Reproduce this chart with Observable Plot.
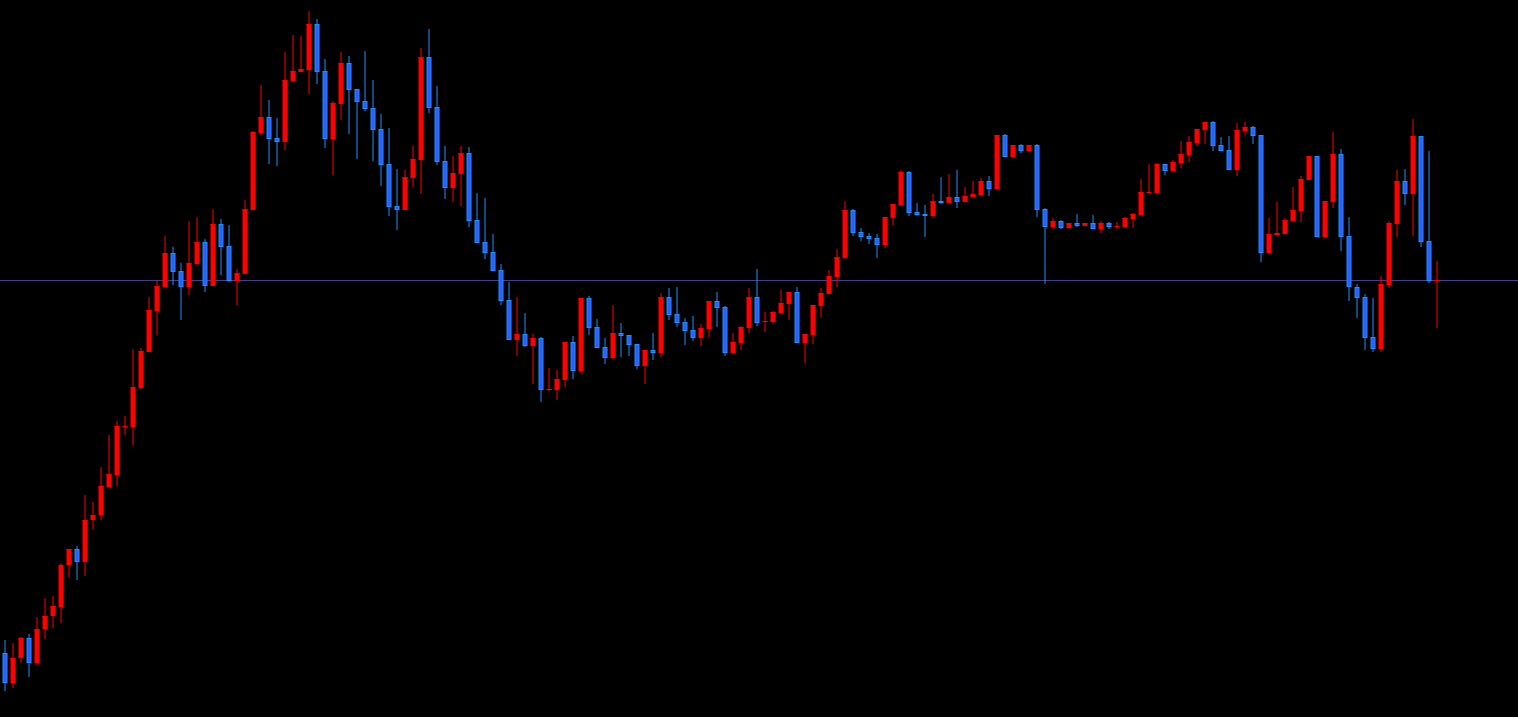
<!DOCTYPE html>
<html>
<head>
<meta charset="utf-8">
<script src="https://cdn.jsdelivr.net/npm/d3@7"></script>
<script src="https://cdn.jsdelivr.net/npm/@observablehq/plot@0.6"></script>
<style>
  html, body { margin: 0; padding: 0; background: #000; overflow: hidden; }
  #chart svg { display: block; }
</style>
</head>
<body>
<div id="chart"></div>
<script>
const opens = [347,317,342,362,337,371,384,393,435,451,438,480,485,513,525,574,573,612,648,689,713,747,729,713,736,758,714,776,754,719,726,790,867,883,862,858,919,928,930,976,929,861,896,937,911,899,892,871,836,794,790,822,840,943,893,839,812,826,847,780,758,748,730,700,660,666,654,662,610,610,620,658,629,702,673,653,642,667,665,656,634,650,647,703,686,678,670,662,671,699,693,647,657,672,703,678,678,687,696,708,657,665,694,706,723,742,790,768,764,762,755,782,795,828,788,786,784,799,797,803,798,803,805,819,811,865,843,855,849,855,791,773,779,772,777,774,777,771,777,774,773,781,785,808,807,836,829,837,845,857,870,878,855,850,830,869,873,865,747,765,766,779,789,820,844,763,798,846,764,713,703,663,651,715,776,819,806,864,759,719];
const highs = [360,357,363,366,383,402,404,437,451,454,505,498,533,565,579,584,651,652,703,719,764,753,737,779,783,761,791,781,775,731,800,869,915,900,882,948,965,964,989,981,941,899,948,944,911,949,920,886,872,831,830,854,952,971,914,854,844,854,853,807,802,766,736,718,703,687,666,663,632,630,658,664,702,704,681,662,695,677,665,656,650,667,707,712,713,682,684,676,699,708,694,667,674,712,731,688,689,710,708,713,666,695,712,730,751,799,791,772,767,766,783,796,830,829,797,795,806,823,826,830,813,819,822,824,865,866,855,856,855,856,792,782,780,777,786,777,785,779,778,778,783,787,821,836,837,836,840,859,864,871,878,879,863,864,877,878,874,865,782,798,782,813,824,844,844,799,868,851,783,716,706,702,724,779,830,831,881,864,849,739];
const lows = [309,312,337,323,335,361,372,377,423,420,424,471,480,512,514,565,555,610,648,665,713,715,680,705,735,708,714,725,718,695,726,790,865,836,834,850,919,928,906,916,852,825,880,866,841,889,839,814,784,770,790,813,806,887,835,801,798,794,773,757,741,729,695,660,644,653,616,598,609,600,613,621,626,665,652,636,641,643,644,631,616,640,643,680,673,655,659,654,663,673,644,647,650,667,674,668,676,687,680,657,637,656,683,706,713,741,764,759,756,742,752,775,794,784,784,763,782,796,797,792,798,803,804,804,811,843,842,847,848,783,716,771,771,771,773,774,771,767,771,771,772,772,785,807,807,825,829,832,838,854,856,849,849,830,824,865,856,738,747,765,766,779,778,820,763,762,792,749,699,682,650,648,648,712,763,795,764,753,717,672];
const closes = [317,342,362,337,371,384,394,435,451,438,480,485,514,526,574,574,613,649,690,714,747,728,713,737,758,714,776,753,719,727,791,868,883,861,858,920,929,931,976,928,861,897,937,910,898,891,870,835,793,790,823,841,943,892,838,812,827,847,779,757,747,729,699,660,666,654,662,610,611,621,658,629,702,672,652,642,667,664,655,634,650,647,703,685,677,669,662,672,699,692,647,658,673,703,677,679,688,697,708,657,666,695,707,724,743,790,767,763,761,755,783,796,828,787,785,784,799,797,803,798,804,806,819,811,865,843,855,849,855,790,773,779,772,777,774,777,771,777,773,774,782,786,808,808,836,829,838,846,858,871,878,854,849,830,870,873,864,747,766,767,780,790,821,844,763,799,846,763,713,702,662,651,716,777,819,806,864,758,719,720];
const currentPrice = [720];

const candles = opens.map((o, i) => ({
  i, open: o, high: highs[i], low: lows[i], close: closes[i],
  up: closes[i] >= o
}));
const ups = candles.filter(d => d.up);
const downs = candles.filter(d => !d.up);

const RED = "#ff0000";
const BLUE_EDGE = "#1e90ff";
const BLUE_FILL = "#2d5cff";

const chart = Plot.plot({
  width: 1518,
  height: 717,
  marginTop: 0, marginBottom: 0, marginLeft: 0, marginRight: 0,
  style: { background: "#000" },
  x: { type: "band", domain: d3.range(candles.length), range: [0, 1440], paddingInner: 0.375, paddingOuter: 0.1875, axis: null },
  y: { domain: [283, 1000], axis: null },
  marks: [
    Plot.ruleY(currentPrice, { y: d => d, stroke: "#483d8b", strokeWidth: 1 }),
    Plot.ruleX(ups, { x: "i", y1: "low", y2: "high", stroke: RED, strokeWidth: 1 }),
    Plot.ruleX(downs, { x: "i", y1: "low", y2: "high", stroke: BLUE_EDGE, strokeWidth: 1 }),
    Plot.barY(ups, { x: "i", y1: "open", y2: "close", fill: RED, dx: 0.5 }),
    Plot.tickY(ups, { x: "i", y: "close", stroke: RED, strokeWidth: 1, dx: 0.5 }),
    Plot.barY(downs, { x: "i", y1: "open", y2: "close", fill: BLUE_FILL, stroke: BLUE_EDGE, strokeWidth: 1, inset: 0.5, dx: 0.5 })
  ]
});
document.getElementById("chart").append(chart);
</script>
</body>
</html>
